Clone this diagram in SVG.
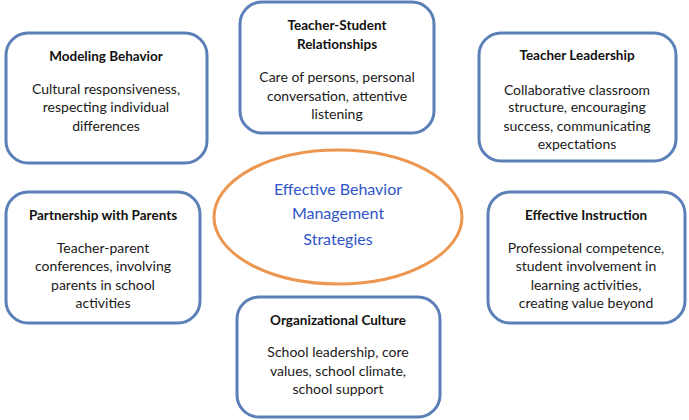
<svg xmlns="http://www.w3.org/2000/svg" width="689" height="420" viewBox="0 0 689 420">
<style>
.box{fill:#fff;stroke:#5b80b8;stroke-width:3}
.hub{fill:#fff;stroke:#ec9650;stroke-width:3}
text{font-family:Lato,"Liberation Sans",sans-serif;text-anchor:middle}
.t{font-size:13.5px;font-weight:bold;fill:#111}
.b{font-size:14px;fill:#1a1a1a}
.c{font-size:16px;fill:#2f55c8}
</style>
<rect width="689" height="420" fill="#fff"/>
<g id="connectors"></g>
<g id="hub">
<ellipse class="hub" cx="338" cy="217" rx="124" ry="67"/>
<text class="c" x="338" y="195">Effective Behavior</text>
<text class="c" x="338" y="219">Management</text>
<text class="c" x="338" y="245">Strategies</text>
</g>
<g id="modeling">
<rect class="box" x="6" y="33" width="201" height="130" rx="22"/>
<text class="t" x="106" y="61">Modeling Behavior</text>
<text class="b" x="106" y="94">Cultural responsiveness,</text>
<text class="b" x="106" y="112">respecting individual</text>
<text class="b" x="106" y="131">differences</text>
</g>
<g id="relationships">
<rect class="box" x="240" y="2" width="194" height="131" rx="22"/>
<text class="t" x="337" y="30">Teacher-Student</text>
<text class="t" x="337" y="49">Relationships</text>
<text class="b" x="337" y="82">Care of persons, personal</text>
<text class="b" x="337" y="101">conversation, attentive</text>
<text class="b" x="337" y="119">listening</text>
</g>
<g id="leadership">
<rect class="box" x="479" y="33" width="197" height="128" rx="22"/>
<text class="t" x="577" y="60">Teacher Leadership</text>
<text class="b" x="577" y="95">Collaborative classroom</text>
<text class="b" x="577" y="112">structure, encouraging</text>
<text class="b" x="577" y="131">success, communicating</text>
<text class="b" x="577" y="149">expectations</text>
</g>
<g id="parents">
<rect class="box" x="6" y="192" width="194" height="131" rx="22"/>
<text class="t" x="103" y="220">Partnership with Parents</text>
<text class="b" x="103" y="253">Teacher-parent</text>
<text class="b" x="103" y="271">conferences, involving</text>
<text class="b" x="103" y="290">parents in school</text>
<text class="b" x="103" y="308">activities</text>
</g>
<g id="instruction">
<rect class="box" x="488" y="192" width="197" height="131" rx="22"/>
<text class="t" x="586" y="220">Effective Instruction</text>
<text class="b" x="586" y="253">Professional competence,</text>
<text class="b" x="586" y="271">student involvement in</text>
<text class="b" x="586" y="290">learning activities,</text>
<text class="b" x="586" y="308">creating value beyond</text>
</g>
<g id="culture">
<rect class="box" x="237" y="297" width="203" height="120" rx="22"/>
<text class="t" x="338" y="325">Organizational Culture</text>
<text class="b" x="338" y="357">School leadership, core</text>
<text class="b" x="338" y="376">values, school climate,</text>
<text class="b" x="338" y="394">school support</text>
</g>
</svg>
